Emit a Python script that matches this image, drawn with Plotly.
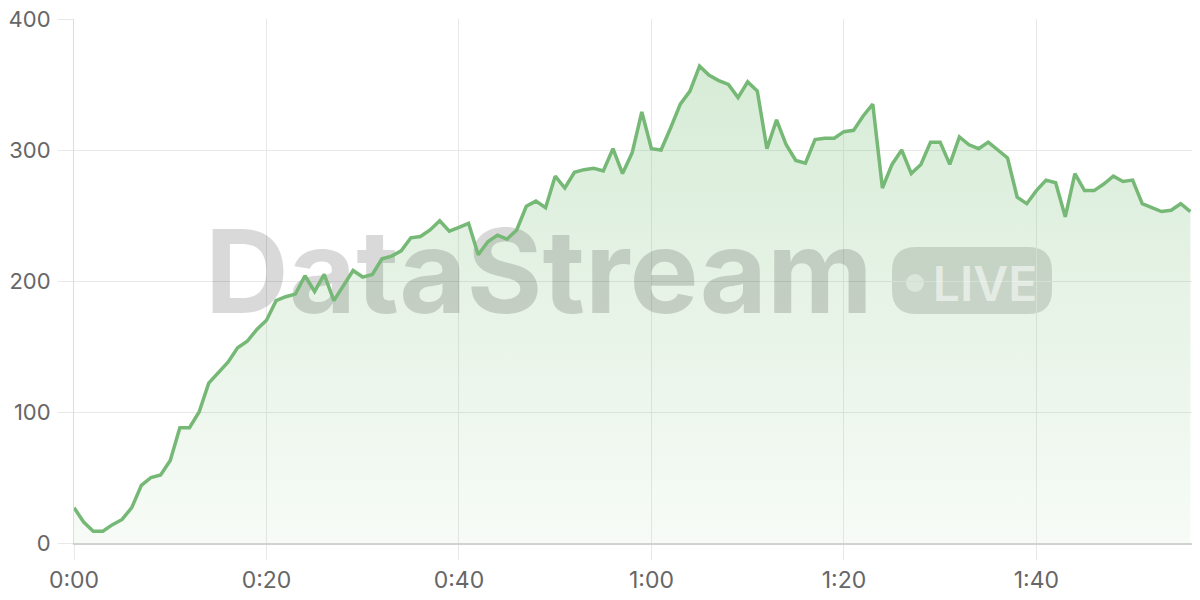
import plotly.graph_objects as go

# ---- data ----
seconds = list(range(117))
values = [27, 16, 9, 9, 14, 18, 27, 44, 50, 52,
          63, 88, 88, 100, 122, 130, 138, 149, 154, 163,
          170, 185, 188, 190, 204, 192, 205, 185, 196, 208,
          203, 205, 217, 219, 223, 233, 234, 239, 246, 238,
          241, 244, 220, 230, 235, 232, 239, 257, 261, 256,
          280, 271, 283, 285, 286, 284, 301, 282, 298, 329,
          301, 300, 317, 335, 345, 364, 357, 353, 350, 340,
          352, 345, 301, 323, 304, 292, 290, 308, 309, 309,
          314, 315, 326, 335, 271, 289, 300, 282, 289, 306,
          306, 289, 310, 304, 301, 306, 300, 294, 264, 259,
          269, 277, 275, 249, 282, 269, 269, 274, 280, 276,
          277, 259, 256, 253, 254, 259, 253]
x_tickvals = [0, 20, 40, 60, 80, 100]
x_ticktext = ["0:00", "0:20", "0:40", "1:00", "1:20", "1:40"]
y_tickvals = [0, 100, 200, 300, 400]

# ---- layout geometry (window pixels; page body adds an 8px offset) ----
OFF = 8
W, H = 1200, 600
PL, PR, PT, PB = 74, 1200, 19, 543          # plot area in window pixels
ML, MR, MT, MB = PL - OFF, W - (PR - OFF), PT - OFF, H - (PB - OFF)
XR = [0, 117]
YR = [0, 400]


def px2x(px):
    return XR[0] + (px - PL) / (PR - PL) * (XR[1] - XR[0])


def px2y(py):
    return YR[0] + (PB - py) / (PB - PT) * (YR[1] - YR[0])


LINE = "#76b876"
GRID = "#e8e8e8"
FONT = "Inter, Roboto, sans-serif"

fig = go.Figure()

# area fill (gradient)
fig.add_trace(go.Scatter(
    x=seconds, y=values, mode="lines", fill="tozeroy",
    line=dict(width=0, color=LINE),
    fillgradient=dict(type="vertical",
                      colorscale=[[0, "rgba(120,190,120,0.06)"],
                                  [1, "rgba(120,190,120,0.30)"]]),
    hoverinfo="skip", showlegend=False,
))

# watermark text
fig.add_trace(go.Scatter(
    x=[px2x(539)], y=[px2y(284)], mode="text", text=["DataStream"],
    textposition="middle center",
    textfont=dict(family=FONT, size=116, color="rgba(0,0,0,0.15)", weight=700),
    hoverinfo="skip", showlegend=False,
))
fig.add_trace(go.Scatter(
    x=[px2x(985)], y=[px2y(289)], mode="text", text=["LIVE"],
    textposition="middle center",
    textfont=dict(family=FONT, size=48, color="rgba(255,255,255,0.55)", weight=600),
    hoverinfo="skip", showlegend=False,
))

# main line
fig.add_trace(go.Scatter(
    x=seconds, y=values, mode="lines",
    line=dict(width=3.5, color=LINE),
    showlegend=False,
))

# LIVE badge (rounded rect) + dot
bx0, bx1, by0, by1, r = 892, 1052, 247, 314, 24


def P(px, py):
    return f"{px2x(px):.4f},{px2y(py):.4f}"


path = (f"M {P(bx0 + r, by0)} L {P(bx1 - r, by0)} Q {P(bx1, by0)} {P(bx1, by0 + r)} "
        f"L {P(bx1, by1 - r)} Q {P(bx1, by1)} {P(bx1 - r, by1)} "
        f"L {P(bx0 + r, by1)} Q {P(bx0, by1)} {P(bx0, by1 - r)} "
        f"L {P(bx0, by0 + r)} Q {P(bx0, by0)} {P(bx0 + r, by0)} Z")
fig.add_shape(type="path", path=path, xref="x", yref="y",
              fillcolor="rgba(0,0,0,0.15)", line=dict(width=0), layer="below")
fig.add_shape(type="circle", xref="x", yref="y",
              x0=px2x(906), x1=px2x(924), y0=px2y(292), y1=px2y(274),
              fillcolor="rgba(255,255,255,0.6)", line=dict(width=0), layer="below")

fig.update_layout(
    width=W, height=H,
    margin=dict(l=ML, r=MR, t=MT, b=MB, autoexpand=False),
    paper_bgcolor="white", plot_bgcolor="white",
    font=dict(family=FONT, size=23, color="#666666"),
    showlegend=False,
)
fig.update_xaxes(
    range=XR, tickvals=x_tickvals, ticktext=x_ticktext,
    showgrid=True, gridcolor=GRID, gridwidth=1,
    ticks="outside", ticklen=15, tickcolor=GRID, tickwidth=1,
    showline=True, linecolor="#d2d2d2", linewidth=2,
    zeroline=False, fixedrange=True, automargin=False,
    ticklabeloverflow="allow",
)
fig.update_yaxes(
    range=YR, tickvals=y_tickvals,
    showgrid=True, gridcolor=GRID, gridwidth=1,
    ticks="outside", ticklen=15, tickcolor=GRID, tickwidth=1,
    showline=True, linecolor="#dcdcdc", linewidth=1,
    zeroline=False, fixedrange=True, automargin=False,
    ticklabelstandoff=3, ticklabeloverflow="allow",
    tickfont=dict(size=22),
)

fig.write_html("out.html")
